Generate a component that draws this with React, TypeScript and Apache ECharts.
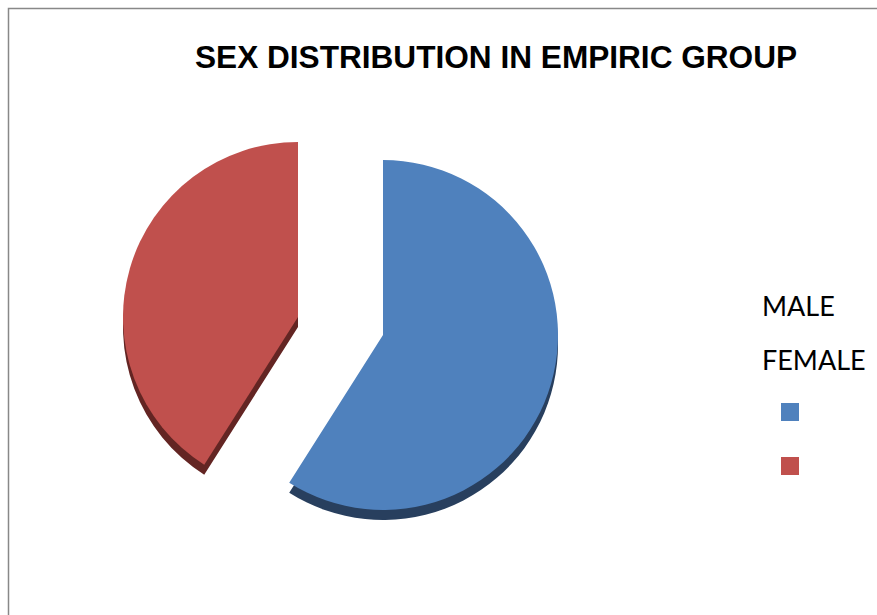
import React, { useEffect, useRef } from "react";
import * as echarts from "echarts";

const title = "SEX DISTRIBUTION IN EMPIRIC GROUP";
const categories = ["MALE", "FEMALE"];
const values = [59, 41];
const topColors = ["#4f81bd", "#c0504d"];
const sideColors = ["#283f5e", "#632523"];
// exploded slice centres (layout only)
const sliceCenters = [
  [383, 335],
  [298, 317],
];

export default function App() {
  const ref = useRef<HTMLDivElement>(null);
  useEffect(() => {
    if (!ref.current) return;
    const chart = echarts.init(ref.current, undefined, { renderer: "svg" });
    const radius = 175;
    const depth = 10;
    const mk = (colors: string[], keep: number) =>
      categories.map((name, i) => ({
        name,
        value: values[i],
        itemStyle: { color: i === keep ? colors[i] : "rgba(0,0,0,0)" },
        emphasis: { disabled: true },
      }));
    const sliceSeries = (layer: "side" | "top") =>
      categories.map((name, k) => ({
        type: "pie",
        name: layer + "-" + name,
        center: [sliceCenters[k][0], sliceCenters[k][1] + (layer === "side" ? depth : 0)],
        radius,
        startAngle: 90,
        clockwise: true,
        silent: true,
        label: { show: false },
        labelLine: { show: false },
        data: mk(layer === "side" ? sideColors : topColors, k),
        z: layer === "side" ? 1 : 2,
      }));
    const legendTexts = categories.map((name, i) => ({
      type: "text",
      x: 762,
      y: 305 + i * 54,
      style: {
        text: name,
        fontFamily: "Lato",
        fontSize: 27,
        fill: "#000",
        verticalAlign: "middle",
      },
    }));
    const legendBoxes = categories.map((name, i) => ({
      type: "rect",
      shape: { x: 781, y: 403 + i * 54, width: 18, height: 18 },
      style: { fill: topColors[i] },
    }));
    chart.setOption({
      animation: false,
      backgroundColor: "#fff",
      title: {
        text: title,
        left: 195,
        top: 41,
        padding: 0,
        textStyle: {
          fontFamily: "Liberation Sans",
          fontWeight: "bold",
          fontSize: 31.6,
          color: "#000",
        },
      },
      graphic: [
        {
          type: "rect",
          shape: { x: 8.5, y: 8.5, width: 1000, height: 1000 },
          style: { fill: "none", stroke: "#888", lineWidth: 1.5 },
          z: -10,
        },
        ...legendTexts,
        ...legendBoxes,
      ],
      series: [...sliceSeries("side"), ...sliceSeries("top")],
    });
    return () => chart.dispose();
  }, []);
  return (
    <div
      ref={ref}
      style={{ position: "absolute", left: 0, top: 0, width: 877, height: 615 }}
    />
  );
}
